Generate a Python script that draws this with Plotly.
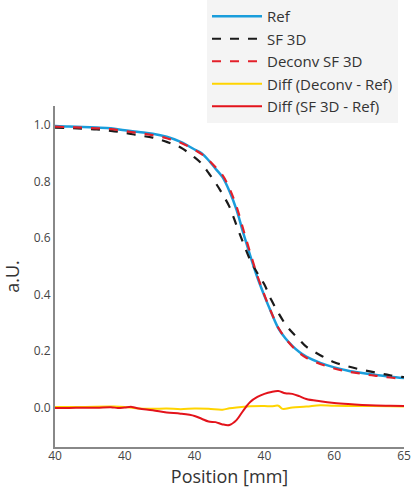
import plotly.graph_objects as go

# Profile curves (position in mm)
x_prof = [40, 41, 42, 43, 44, 45, 46, 47, 48, 49, 50, 50.5, 51, 51.5, 52, 52.5, 53, 53.5,
          54, 54.5, 55, 55.5, 56, 56.5, 57, 57.5, 58, 59, 60, 61, 62, 63, 64, 65]
ref = [0.996, 0.994, 0.993, 0.991, 0.988, 0.981, 0.975, 0.969, 0.958, 0.94, 0.913, 0.9,
       0.875, 0.845, 0.815, 0.765, 0.70, 0.615, 0.535, 0.46, 0.395, 0.335, 0.28, 0.245,
       0.218, 0.196, 0.18, 0.158, 0.142, 0.13, 0.122, 0.115, 0.109, 0.104]
sf3d = [0.99, 0.989, 0.987, 0.984, 0.979, 0.972, 0.963, 0.955, 0.94, 0.92, 0.885, 0.863,
        0.83, 0.795, 0.755, 0.71, 0.645, 0.58, 0.52, 0.475, 0.435, 0.38, 0.335, 0.295,
        0.265, 0.24, 0.215, 0.185, 0.16, 0.145, 0.133, 0.123, 0.114, 0.107]
deconv = [0.994, 0.992, 0.99, 0.988, 0.985, 0.978, 0.971, 0.964, 0.953, 0.937, 0.912,
          0.897, 0.876, 0.85, 0.822, 0.775, 0.712, 0.628, 0.545, 0.466, 0.398, 0.336,
          0.282, 0.245, 0.216, 0.193, 0.176, 0.154, 0.138, 0.127, 0.119, 0.112, 0.106,
          0.101]

x_diff_sf = [40, 41, 42, 43, 44, 44.5, 45, 45.5, 46, 47, 48, 49, 50, 50.5, 51, 51.5, 52,
             52.5, 53, 53.5, 54, 54.5, 55, 55.5, 56, 56.5, 57, 57.5, 58, 59, 60, 61, 62,
             63, 64, 65]
diff_sf = [-0.002, -0.002, -0.001, -0.001, 0.001, -0.002, 0.0, 0.002, -0.004, -0.01,
           -0.018, -0.022, -0.03, -0.04, -0.05, -0.052, -0.06, -0.062, -0.045, -0.01,
           0.02, 0.037, 0.048, 0.055, 0.058, 0.05, 0.048, 0.04, 0.03, 0.022, 0.016,
           0.012, 0.009, 0.007, 0.006, 0.005]

x_diff_dec = [40, 42, 44, 45, 46, 47, 48, 49, 50, 51, 52, 52.5, 53, 54, 55, 55.5, 56,
              56.3, 57, 58, 59, 60, 62, 64, 65]
diff_dec = [0.002, 0.002, 0.003, 0.002, -0.004, -0.005, -0.004, -0.006, -0.004, -0.005,
            -0.008, -0.003, 0.0, 0.004, 0.005, 0.004, 0.006, -0.005, 0.0, 0.003, 0.008,
            0.006, 0.005, 0.004, 0.003]

x_tickvals = [40, 45, 50, 55, 60, 65]
x_ticktext = ["40", "40", "40", "40", "60", "65"]
y_tickvals = [0.0, 0.2, 0.4, 0.6, 0.8, 1.0]

FONT = "Open Sans"

fig = go.Figure()
fig.add_trace(go.Scatter(x=x_prof, y=ref, name="Ref", mode="lines",
                         line=dict(color="#1a9ddb", width=2.5, shape="spline")))
fig.add_trace(go.Scatter(x=x_prof, y=sf3d, name="SF 3D", mode="lines",
                         line=dict(color="#1a1a1a", width=2.2, dash="dash", shape="spline")))
fig.add_trace(go.Scatter(x=x_prof, y=deconv, name="Deconv SF 3D", mode="lines",
                         line=dict(color="#e3202a", width=2.2, dash="dash", shape="spline")))
fig.add_trace(go.Scatter(x=x_diff_dec, y=diff_dec, name="Diff (Deconv - Ref)", mode="lines",
                         line=dict(color="#ffd400", width=2, shape="spline")))
fig.add_trace(go.Scatter(x=x_diff_sf, y=diff_sf, name="Diff (SF 3D - Ref)", mode="lines",
                         line=dict(color="#e3131b", width=2, shape="spline")))

fig.update_layout(
    width=412, height=494,
    margin=dict(l=55, r=8, t=106, b=47, autoexpand=False),
    paper_bgcolor="white", plot_bgcolor="white",
    font=dict(family=FONT, color="#444", size=12),
    showlegend=True,
    legend=dict(xref="paper", yref="container", x=(207 - 55) / 349, y=1,
                xanchor="left", yanchor="top", bgcolor="#f4f4f4",
                font=dict(family=FONT, size=15, color="#333"),
                tracegroupgap=0, itemwidth=50),
    xaxis=dict(range=[40, 65], tickvals=x_tickvals, ticktext=x_ticktext,
               showgrid=False, zeroline=False, showline=True, linecolor="#888",
               linewidth=2, ticks="", ticklen=0, tickfont=dict(size=12, color="#444"),
               automargin=False, ticklabeloverflow="allow", ticklabelstandoff=-3,
               title=dict(text="Position [mm]", font=dict(size=18, color="#333"), standoff=0)),
    yaxis=dict(range=[-0.14, 1.067], tickvals=y_tickvals, tickformat=".1f",
               showgrid=False, zeroline=False, showline=True, linecolor="#888",
               linewidth=2, ticks="", ticklen=0, tickfont=dict(size=12, color="#444"),
               automargin=False, ticklabeloverflow="allow",
               title=dict(text="a.U.", font=dict(size=18, color="#333"), standoff=10)),
)

fig.write_html("out.html", config={"displayModeBar": False},
               post_script="document.body.style.margin='0';")
